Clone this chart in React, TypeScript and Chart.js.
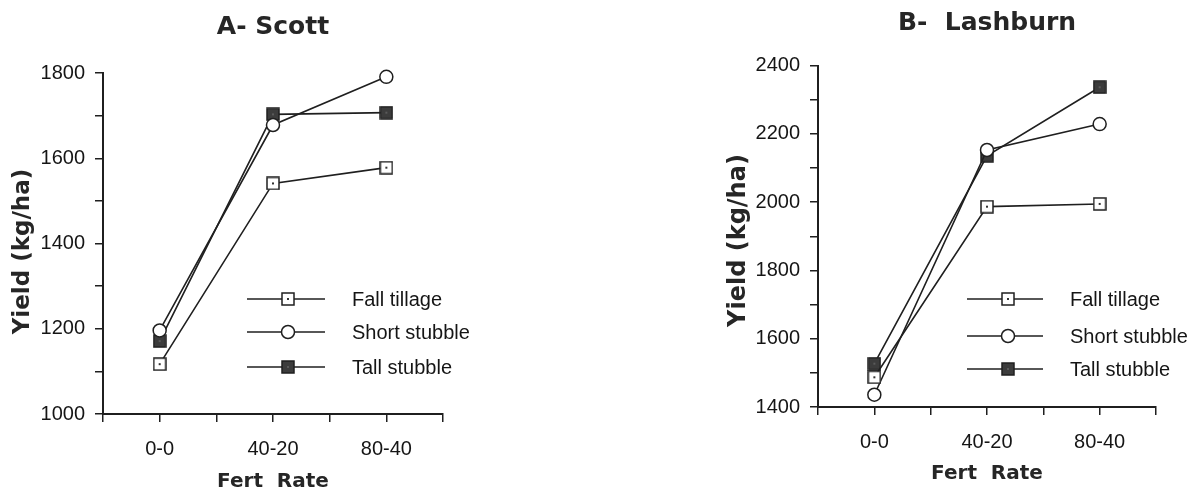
import React, { useEffect, useRef } from 'react';
import { Chart, registerables } from 'chart.js';

Chart.register(...registerables);

// ---------- data ----------
const categories = ['0-0', '40-20', '80-40'];
const seriesNames = ['Fall tillage', 'Short stubble', 'Tall stubble'];

const scottFall = [1117, 1541, 1578];
const scottShort = [1196, 1678, 1791];
const scottTall = [1171, 1703, 1707];
const scottYLabels = [1000, 1200, 1400, 1600, 1800];

const lashFall = [1487, 1987, 1995];
const lashShort = [1436, 2153, 2229];
const lashTall = [1527, 2136, 2337];
const lashYLabels = [1400, 1600, 1800, 2000, 2200, 2400];

const INK = '#1f1f1f';
const TICK_FONT = "'Liberation Sans', Arial, sans-serif";
const BOLD_FONT = "'DejaVu Sans', 'Liberation Sans', sans-serif";

type PanelCfg = {
  left: number;
  width: number;
  title: string;
  yTitle: string;
  series: number[][];
  yLabels: number[];
  pad: { left: number; top: number; right: number; bottom: number };
  yWidth: number;
  xHeight: number;
  titlePad: { top: number; bottom: number };
  yTitleSize: number;
  yTitlePad: number;
  xTitlePad: number;
  xTickPad: number;
  legend: { x1: number; x2: number; mx: number; tx: number; rows: number[] };
};

const panels: PanelCfg[] = [
  {
    left: 0,
    width: 600,
    title: 'A- Scott',
    yTitle: 'Yield (kg/ha)  ',
    series: [scottFall, scottShort, scottTall],
    yLabels: scottYLabels,
    pad: { left: 0, top: 0, right: 157, bottom: 0 },
    yWidth: 103,
    xHeight: 75,
    titlePad: { top: 12.5, bottom: 30.5 },
    yTitleSize: 23,
    yTitlePad: 9,
    xTitlePad: -3,
    xTickPad: 15,
    legend: { x1: 247, x2: 325, mx: 288, tx: 352, rows: [299, 332, 367] },
  },
  {
    left: 600,
    width: 601,
    title: 'B-  Lashburn',
    yTitle: 'Yield (kg/ha) ',
    series: [lashFall, lashShort, lashTall],
    yLabels: lashYLabels,
    pad: { left: 120, top: 0, right: 45, bottom: 0 },
    yWidth: 98,
    xHeight: 82,
    titlePad: { top: 8.5, bottom: 27.2 },
    yTitleSize: 24,
    yTitlePad: 4.6,
    xTitlePad: 5.5,
    xTickPad: 15.5,
    legend: { x1: 367, x2: 443, mx: 408, tx: 470, rows: [299, 336, 369] },
  },
];

function makeSquare(fill: string, dot: string): HTMLCanvasElement {
  const c = document.createElement('canvas');
  c.width = 14;
  c.height = 14;
  const g = c.getContext('2d')!;
  g.fillStyle = fill;
  g.fillRect(1, 1, 12, 12);
  g.strokeStyle = INK;
  g.lineWidth = 1.5;
  g.strokeRect(1, 1, 12, 12);
  g.fillStyle = dot;
  g.fillRect(6, 6, 2, 2);
  return c;
}

function Panel({ cfg }: { cfg: PanelCfg }) {
  const ref = useRef<HTMLCanvasElement>(null);

  useEffect(() => {
    const openSq = makeSquare('#ffffff', '#333333');
    const fillSq = makeSquare('#3c3c3c', '#5a5a5a');
    const styles: any[] = [openSq, 'circle', fillSq];

    const legendPlugin = {
      id: 'inlineLegend',
      afterDraw(chart: any) {
        const ctx = chart.ctx as CanvasRenderingContext2D;
        const L = cfg.legend;
        ctx.save();
        seriesNames.forEach((name, i) => {
          const y = L.rows[i];
          ctx.strokeStyle = INK;
          ctx.lineWidth = 1.6;
          ctx.beginPath();
          ctx.moveTo(L.x1, y);
          ctx.lineTo(L.x2, y);
          ctx.stroke();
          const st = styles[i];
          if (st === 'circle') {
            ctx.beginPath();
            ctx.arc(L.mx, y, 6.5, 0, Math.PI * 2);
            ctx.fillStyle = '#fff';
            ctx.fill();
            ctx.lineWidth = 1.5;
            ctx.stroke();
          } else {
            ctx.drawImage(st, L.mx - st.width / 2, y - st.height / 2);
          }
          ctx.fillStyle = '#151515';
          ctx.font = `20px ${TICK_FONT}`;
          ctx.textAlign = 'left';
          ctx.textBaseline = 'middle';
          ctx.fillText(name, L.tx, y + 1);
        });
        ctx.restore();
      },
    };

    const yMin = cfg.yLabels[0];
    const yMax = cfg.yLabels[cfg.yLabels.length - 1];

    const chart = new Chart(ref.current!, {
      type: 'line',
      data: {
        datasets: cfg.series.map((vals, i) => ({
          label: seriesNames[i],
          data: vals.map((v, k) => ({ x: k, y: v })),
          borderColor: INK,
          borderWidth: 1.6,
          tension: 0,
          clip: false,
          pointStyle: styles[i],
          pointRadius: 6.5,
          pointBackgroundColor: '#ffffff',
          pointBorderColor: INK,
          pointBorderWidth: 1.5,
          fill: false,
        })),
      },
      options: {
        responsive: false,
        animation: false,
        devicePixelRatio: 1,
        layout: { padding: cfg.pad },
        plugins: {
          legend: { display: false },
          tooltip: { enabled: false },
          title: {
            display: true,
            text: cfg.title,
            fullSize: false,
            color: '#262626',
            font: { family: BOLD_FONT, size: 25, weight: 'bold', lineHeight: 1.2 },
            padding: cfg.titlePad,
          },
        },
        scales: {
          x: {
            type: 'linear',
            min: -0.5,
            max: 2.5,
            afterFit: (s: any) => {
              s.height = cfg.xHeight;
            },
            border: { display: true, color: INK, width: 2 },
            grid: {
              drawOnChartArea: false,
              drawTicks: true,
              tickLength: 8,
              color: INK,
              lineWidth: 1.5,
            },
            ticks: {
              stepSize: 0.5,
              autoSkip: false,
              maxRotation: 0,
              padding: cfg.xTickPad,
              color: '#151515',
              font: { family: TICK_FONT, size: 20 },
              callback: (v: any) => {
                const n = Number(v);
                return Number.isInteger(n) ? categories[n] : '';
              },
            },
            title: {
              display: true,
              text: 'Fert  Rate',
              color: '#262626',
              font: { family: BOLD_FONT, size: 20, weight: 'bold', lineHeight: 1 },
              padding: { top: 0, bottom: cfg.xTitlePad },
            },
          },
          y: {
            type: 'linear',
            min: yMin,
            max: yMax,
            afterFit: (s: any) => {
              s.width = cfg.yWidth;
            },
            border: { display: true, color: INK, width: 2 },
            grid: {
              drawOnChartArea: false,
              drawTicks: true,
              tickLength: 8,
              color: INK,
              lineWidth: 1.5,
            },
            ticks: {
              stepSize: 100,
              autoSkip: false,
              padding: 10,
              color: '#151515',
              font: { family: TICK_FONT, size: 20 },
              callback: (v: any) => (cfg.yLabels.includes(Number(v)) ? String(v) : ''),
            },
            title: {
              display: true,
              text: cfg.yTitle,
              color: '#262626',
              font: { family: BOLD_FONT, size: cfg.yTitleSize, weight: 'bold', lineHeight: 1.2 },
              padding: { top: cfg.yTitlePad, bottom: 0 },
            },
          },
        },
      } as any,
      plugins: [legendPlugin],
    });
    return () => chart.destroy();
  }, [cfg]);

  return (
    <canvas
      ref={ref}
      width={cfg.width}
      height={489}
      style={{ position: 'absolute', left: cfg.left, top: 0, width: cfg.width, height: 489 }}
    />
  );
}

export default function App() {
  return (
    <div
      style={{
        position: 'absolute',
        left: 0,
        top: 0,
        width: 1201,
        height: 489,
        background: '#ffffff',
        overflow: 'hidden',
      }}
    >
      {panels.map((p) => (
        <Panel key={p.title} cfg={p} />
      ))}
    </div>
  );
}
